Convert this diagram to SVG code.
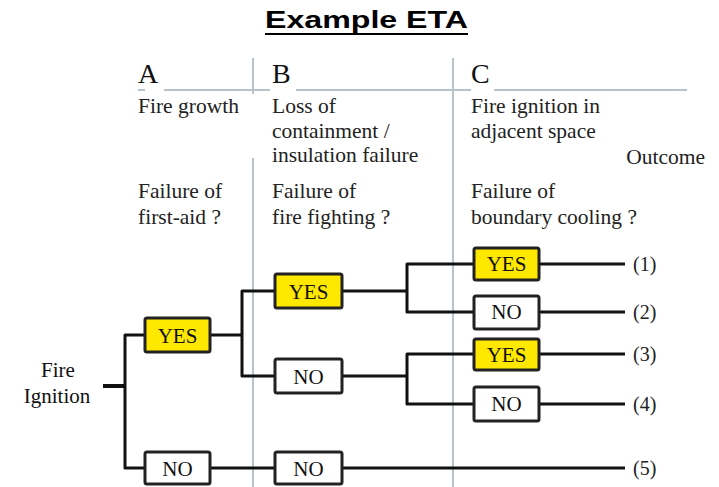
<svg xmlns="http://www.w3.org/2000/svg" width="719" height="487" viewBox="0 0 719 487">
<style>
.title{font-family:"Liberation Sans",Arial,sans-serif;font-weight:bold;font-size:23px;fill:#000}
.t{font-family:"Liberation Serif","Times New Roman",serif;font-size:21.5px;fill:#222}
.big{font-family:"Liberation Serif","Times New Roman",serif;font-size:28px;fill:#111}
.lbl{font-family:"Liberation Serif","Times New Roman",serif;font-size:21px;fill:#111;text-anchor:middle}
.out{font-family:"Liberation Serif","Times New Roman",serif;font-size:20px;fill:#222}
.grid{stroke:#b7c3c8;stroke-width:2;fill:none}
.yes{fill:#ffe800;stroke:#222;stroke-width:3}
.no{fill:#fff;stroke:#222;stroke-width:3}
.c{stroke:#111;stroke-width:3;fill:none;stroke-linejoin:round}
</style>
<rect width="719" height="487" fill="#fff"/>
<text class="title" x="265" y="28" textLength="203" lengthAdjust="spacingAndGlyphs">Example ETA</text>
<line x1="265" y1="34" x2="468" y2="34" stroke="#000" stroke-width="2"/>

<g id="grid">
<line class="grid" x1="138" y1="90" x2="145" y2="90"/>
<line class="grid" x1="164" y1="90" x2="270" y2="90"/>
<line class="grid" x1="296" y1="90" x2="471" y2="90"/>
<line class="grid" x1="494" y1="90" x2="687" y2="90"/>
<line class="grid" x1="253" y1="58" x2="253" y2="94"/>
<line class="grid" x1="253" y1="158" x2="253" y2="487"/>
<line class="grid" x1="453" y1="58" x2="453" y2="487"/>
</g>

<g id="headers">
<text class="big" x="138" y="83">A</text>
<text class="big" x="272" y="83">B</text>
<text class="big" x="471" y="83">C</text>
<text class="t" x="138" y="113">Fire growth</text>
<text class="t" x="272" y="113">Loss of</text>
<text class="t" x="272" y="138">containment /</text>
<text class="t" x="272" y="162">insulation failure</text>
<text class="t" x="471" y="113">Fire ignition in</text>
<text class="t" x="471" y="138">adjacent space</text>
<text class="t" x="705" y="164" text-anchor="end">Outcome</text>
<text class="t" x="138" y="198">Failure of</text>
<text class="t" x="138" y="224">first-aid ?</text>
<text class="t" x="272" y="198">Failure of</text>
<text class="t" x="272" y="224">fire fighting ?</text>
<text class="t" x="471" y="198">Failure of</text>
<text class="t" x="471" y="224">boundary cooling ?</text>
</g>

<g id="connectors">
<line x1="103" y1="386" x2="125" y2="386" stroke="#111" stroke-width="4"/>
<polyline class="c" points="145,335 125,335 125,468 145,468"/>
<line class="c" x1="210" y1="335" x2="242" y2="335"/>
<polyline class="c" points="275,291 242,291 242,376 275,376"/>
<line class="c" x1="210" y1="468" x2="275" y2="468"/>
<line class="c" x1="342" y1="291" x2="407" y2="291"/>
<polyline class="c" points="474,264 407,264 407,312 474,312"/>
<line class="c" x1="342" y1="376" x2="407" y2="376"/>
<polyline class="c" points="474,354 407,354 407,404 474,404"/>
<line class="c" x1="539" y1="264" x2="625" y2="264"/>
<line class="c" x1="539" y1="312" x2="625" y2="312"/>
<line class="c" x1="539" y1="354" x2="625" y2="354"/>
<line class="c" x1="539" y1="404" x2="625" y2="404"/>
<line class="c" x1="342" y1="468" x2="625" y2="468"/>
</g>

<g id="start"><text class="lbl" x="58" y="377">Fire</text><text class="lbl" x="57" y="403">Ignition</text></g>

<g id="a-yes"><rect class="yes" x="145" y="318" width="65" height="34" rx="2"/><text class="lbl" x="177.5" y="343">YES</text></g>
<g id="a-no"><rect class="no" x="145" y="452" width="65" height="32" rx="2"/><text class="lbl" x="177.5" y="476">NO</text></g>
<g id="b-yes"><rect class="yes" x="275" y="274" width="67" height="34" rx="2"/><text class="lbl" x="308.5" y="299">YES</text></g>
<g id="b-no"><rect class="no" x="275" y="359" width="67" height="34" rx="2"/><text class="lbl" x="308.5" y="384">NO</text></g>
<g id="b-no2"><rect class="no" x="275" y="452" width="67" height="32" rx="2"/><text class="lbl" x="308.5" y="476">NO</text></g>
<g id="c-yes1"><rect class="yes" x="474" y="248" width="65" height="32" rx="2"/><text class="lbl" x="506.5" y="271">YES</text></g>
<g id="c-no1"><rect class="no" x="474" y="296" width="65" height="33" rx="2"/><text class="lbl" x="506.5" y="319">NO</text></g>
<g id="c-yes2"><rect class="yes" x="474" y="339" width="65" height="31" rx="2"/><text class="lbl" x="506.5" y="362">YES</text></g>
<g id="c-no2"><rect class="no" x="474" y="387" width="65" height="34" rx="2"/><text class="lbl" x="506.5" y="411">NO</text></g>

<g id="outcomes">
<text class="out" x="633" y="271">(1)</text>
<text class="out" x="633" y="319">(2)</text>
<text class="out" x="633" y="361">(3)</text>
<text class="out" x="633" y="411">(4)</text>
<text class="out" x="633" y="475">(5)</text>
</g>
</svg>
